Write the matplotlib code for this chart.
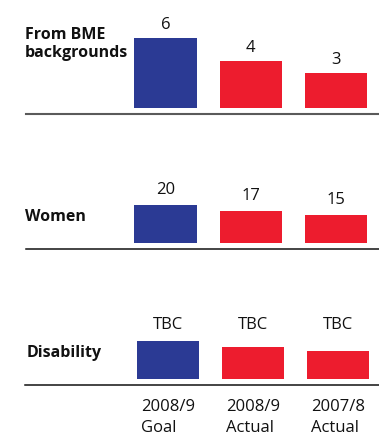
import matplotlib
matplotlib.use("Agg")
import matplotlib.pyplot as plt
import matplotlib.transforms as mtransforms

plt.rcParams['font.family'] = ['Open Sans', 'DejaVu Sans']

# Data
periods = ["2008/9\nGoal", "2008/9\nActual", "2007/8\nActual"]
bme_values = [6, 4, 3]
women_values = [20, 17, 15]
disability_values = [20, 17, 15]
disability_labels = ["TBC", "TBC", "TBC"]

BLUE = "#2B3A94"
RED = "#ED1C2E"
bar_colors = [BLUE, RED, RED]

W, H = 379, 438
fig = plt.figure(figsize=(W / 100, H / 100), dpi=100)


def add_panel(left, top, right, base, gap, scale, xmin, xmax):
    """Axes placed in pixel units; baseline at `base`, bars start `gap` px above."""
    ax = fig.add_axes([left / W, 1 - base / H, (right - left) / W, (base - top) / H])
    height = base - top
    ax.set_ylim(-gap / scale, (height - gap) / scale)
    ax.set_xlim(xmin, xmax)
    for side in ("top", "right", "left"):
        ax.spines[side].set_visible(False)
    ax.set_xticks([])
    ax.set_yticks([])
    ax.patch.set_alpha(0)
    return ax


bar_w = 0.733
x = [0, 1, 2]

# Panel 1: BME backgrounds
ax1 = add_panel(26, 5, 379, 114, 6, 11.7, -1.636, 2.504)
ax1.bar(x, bme_values, width=bar_w, color=bar_colors, linewidth=0)
ax1.spines["bottom"].set_color("#5a5a5a")
ax1.spines["bottom"].set_linewidth(1.5)
for i, v in enumerate(bme_values):
    ax1.annotate(str(v), (i, v), xytext=(0, 9), textcoords="offset pixels",
                 ha="center", va="baseline", fontsize=12, color="#111111")

# Panel 2: Women
ax2 = add_panel(26, 150, 379, 249, 6, 1.9, -1.636, 2.504)
ax2.bar(x, women_values, width=bar_w, color=bar_colors, linewidth=0)
ax2.spines["bottom"].set_color("#111111")
ax2.spines["bottom"].set_linewidth(1.1)
for i, v in enumerate(women_values):
    ax2.annotate(str(v), (i, v), xytext=(0, 11), textcoords="offset pixels",
                 ha="center", va="baseline", fontsize=12, color="#111111")

# Panel 3: Disability
ax3 = add_panel(25, 290, 379, 385, 6, 1.9, -1.682, 2.482)
ax3.bar(x, disability_values, width=bar_w, color=bar_colors, linewidth=0)
ax3.spines["bottom"].set_color("#111111")
ax3.spines["bottom"].set_linewidth(1.1)
trans3 = mtransforms.blended_transform_factory(ax3.transData, fig.transFigure)
for i, lab in enumerate(disability_labels):
    ax3.text(i, 1 - 329 / H, lab, transform=trans3, ha="center", va="baseline",
             fontsize=12, color="#111111")
for i, lab in enumerate(periods):
    ax3.text(i, 1 - 432 / H, lab, transform=trans3, ha="center", va="baseline",
             multialignment="left", fontsize=12, color="#111111", linespacing=1.45)

# Row labels
fig.text(25 / W, 1 - 57 / H, "From BME\nbackgrounds", ha="left", va="baseline",
         fontsize=11.5, fontweight="bold", color="#111111", linespacing=1.2)
fig.text(25 / W, 1 - 221 / H, "Women", ha="left", va="baseline",
         fontsize=11.5, fontweight="bold", color="#111111")
fig.text(27 / W, 1 - 357 / H, "Disability", ha="left", va="baseline",
         fontsize=11.5, fontweight="bold", color="#111111")

fig.savefig("out.png", dpi=100)
